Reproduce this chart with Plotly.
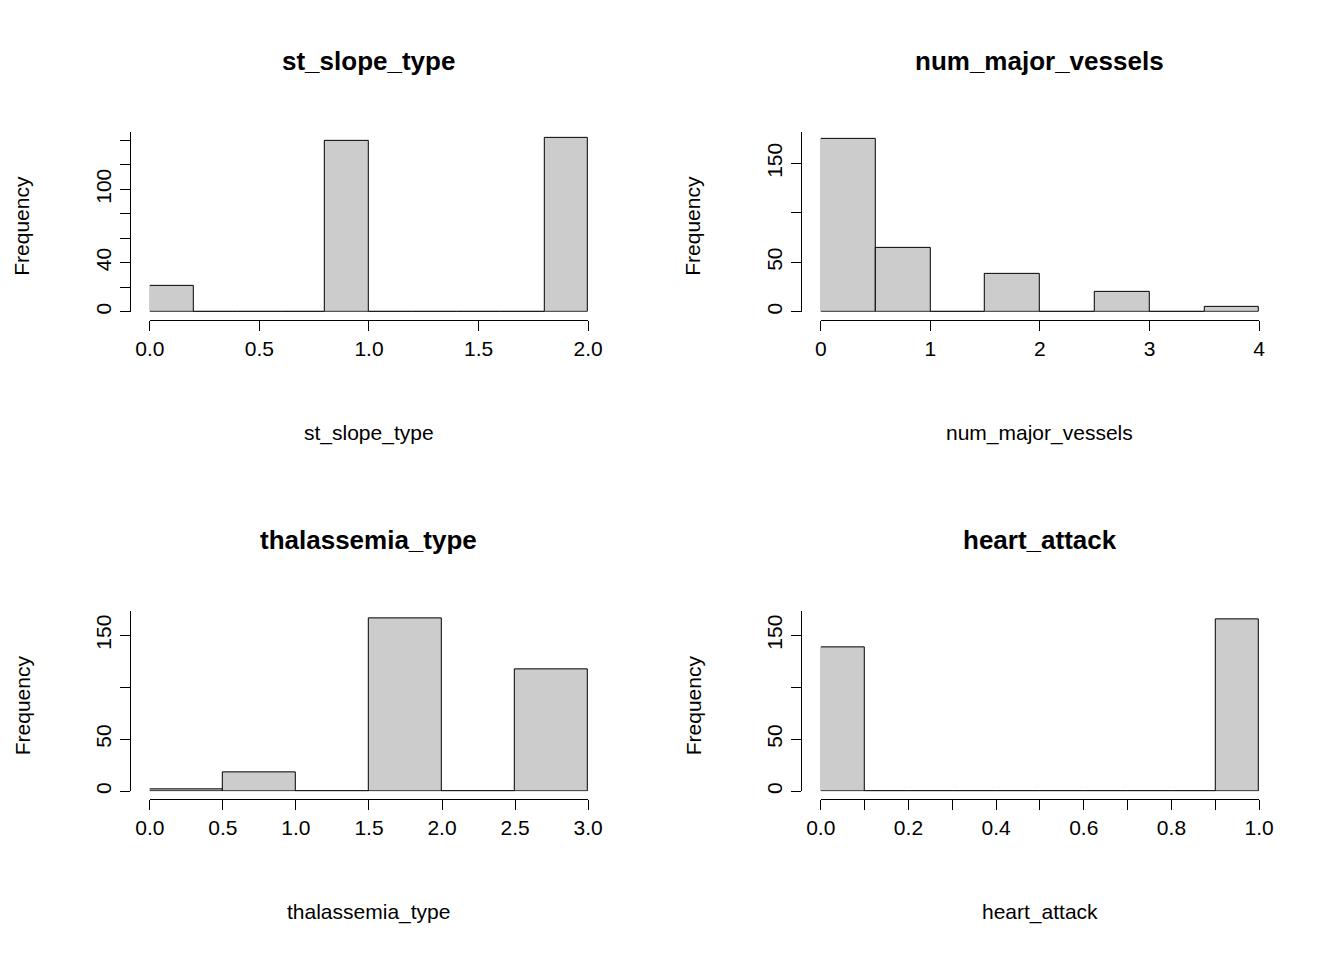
import plotly.graph_objects as go

W, H = 1344, 960
FONT = "Liberation Sans, Arial, sans-serif"

# bin edges and counts per histogram
slope_edges = [0.0, 0.2, 0.4, 0.6, 0.8, 1.0, 1.2, 1.4, 1.6, 1.8, 2.0]
slope_counts = [21, 0, 0, 0, 140, 0, 0, 0, 0, 142]
vessels_edges = [0.0, 0.5, 1.0, 1.5, 2.0, 2.5, 3.0, 3.5, 4.0]
vessels_counts = [175, 65, 0, 38, 0, 20, 0, 5]
thal_edges = [0.0, 0.5, 1.0, 1.5, 2.0, 2.5, 3.0]
thal_counts = [2, 18, 0, 166, 0, 117]
heart_edges = [0.0, 0.1, 0.2, 0.3, 0.4, 0.5, 0.6, 0.7, 0.8, 0.9, 1.0]
heart_counts = [138, 0, 0, 0, 0, 0, 0, 0, 0, 165]

panels = [
    dict(name="st_slope_type", edges=slope_edges, counts=slope_counts,
         xt=[0, 0.5, 1, 1.5, 2], xl=["0.0", "0.5", "1.0", "1.5", "2.0"],
         yt=[0, 20, 40, 60, 80, 100, 120, 140], yl=["0", "", "40", "", "", "100", "", ""],
         ytop=147, px=(148, 587), py=(130, 310)),
    dict(name="num_major_vessels", edges=vessels_edges, counts=vessels_counts,
         xt=[0, 1, 2, 3, 4], xl=["0", "1", "2", "3", "4"],
         yt=[0, 50, 100, 150], yl=["0", "50", "", "150"],
         ytop=182, px=(820, 1259), py=(130, 310)),
    dict(name="thalassemia_type", edges=thal_edges, counts=thal_counts,
         xt=[0, 0.5, 1, 1.5, 2, 2.5, 3], xl=["0.0", "0.5", "1.0", "1.5", "2.0", "2.5", "3.0"],
         yt=[0, 50, 100, 150], yl=["0", "50", "", "150"],
         ytop=173, px=(148, 587), py=(610, 790)),
    dict(name="heart_attack", edges=heart_edges, counts=heart_counts,
         xt=[0, 0.1, 0.2, 0.3, 0.4, 0.5, 0.6, 0.7, 0.8, 0.9, 1.0],
         xl=["0.0", "", "0.2", "", "0.4", "", "0.6", "", "0.8", "", "1.0"],
         yt=[0, 50, 100, 150], yl=["0", "50", "", "150"],
         ytop=173, px=(820, 1259), py=(610, 790)),
]


def fx(x):
    # pixel -> paper x (corrected for the rendered plotting area)
    return (x - 21) / 1316


def fy(y):
    return 1 - (y - 6) / 958


fig = go.Figure()
annotations = []
for i, p in enumerate(panels, start=1):
    e = p["edges"]
    centers = [(a + b) / 2 for a, b in zip(e[:-1], e[1:])]
    widths = [b - a for a, b in zip(e[:-1], e[1:])]
    sfx = "" if i == 1 else str(i)
    fig.add_trace(go.Bar(
        x=centers, y=p["counts"], width=widths,
        marker=dict(color="#CCCCCC", line=dict(color="black", width=1)),
        xaxis="x" + sfx, yaxis="y" + sfx, showlegend=False,
    ))
    x0, x1 = p["px"]
    y0, y1 = p["py"]
    common = dict(showgrid=False, zeroline=False, showline=True, linecolor="black",
                  ticks="outside", ticklen=10, tickcolor="black",
                  tickfont=dict(family=FONT, size=21, color="black"))
    fig.update_layout(**{
        "xaxis" + sfx: dict(domain=[fx(x0), fx(x1)], range=[e[0], e[-1]],
                            anchor="free", position=fy(y1 + 8),
                            tickvals=p["xt"], ticktext=p["xl"], **common),
        "yaxis" + sfx: dict(domain=[fy(y1), fy(y0)], range=[0, p["ytop"]],
                            anchor="free", position=fx(x0 - 20),
                            tickvals=p["yt"], ticktext=p["yl"], tickangle=-90, **common),
    })
    cx = fx((x0 + x1) / 2)
    annotations += [
        dict(text="<b>" + p["name"] + "</b>", x=cx, y=fy(y0 - 71),
             font=dict(size=26)),
        dict(text=p["name"], x=cx, y=fy(y1 + 121), font=dict(size=21)),
        dict(text="Frequency", x=fx(x0 - 128), y=fy((y0 + y1) / 2 + 4),
             textangle=-90, font=dict(size=21)),
    ]

for a in annotations:
    a.update(xref="paper", yref="paper", showarrow=False,
             xanchor="center", yanchor="middle")
    a["font"].update(family=FONT, color="black")

fig.update_layout(
    width=W, height=H, margin=dict(l=0, r=0, t=0, b=0),
    paper_bgcolor="white", plot_bgcolor="white",
    bargap=0, annotations=annotations,
)

fig.write_html("out.html")
